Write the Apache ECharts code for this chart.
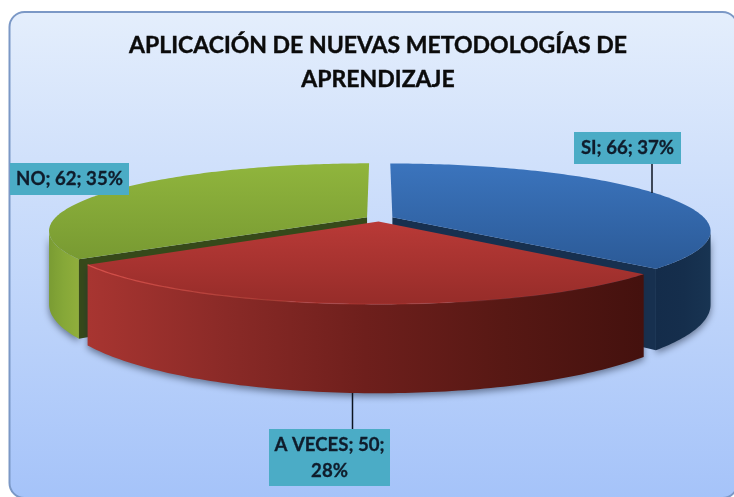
<!DOCTYPE html>
<html>
<head>
<meta charset="utf-8">
<title>Aplicación de nuevas metodologías</title>
<script src="https://cdn.jsdelivr.net/npm/echarts@6/dist/echarts.min.js"></script>
<style>
html, body { margin: 0; padding: 0; background: #fff; }
#main { width: 734px; height: 497px; }
</style>
</head>
<body>
<div id="main"></div>
<script>
// datos del grafico
var categories = ['SI', 'A VECES', 'NO'];
var values = [66, 50, 62];
var titleLines = ['APLICACIÓN DE NUEVAS METODOLOGÍAS DE', 'APRENDIZAJE'];

// geometria de la torta con perspectiva
var cx = 379.5, cy = 218.5, radiusX = 312.5, radiusY = 65, persp = 0.1985, depth = 70.6, explode = 0.045;
// blue and green go first, red sits in front of both
var drawOrder = [0, 2, 1];
// the outer side only shows on the front of the rim
var sideFrom = 90 + Math.asin(persp) * 180 / Math.PI;
var sideTo = 360 - sideFrom;

var LG = echarts.graphic.LinearGradient;
function vGrad(a, b) { return new LG(0, 0, 0, 1, [{offset: 0, color: a}, {offset: 1, color: b}]); }
function hGrad(stops) {
    return new LG(0, 0, 1, 0, stops.map(function (c, i) { return {offset: i / (stops.length - 1), color: c}; }));
}
var sliceStyles = [
    {top: vGrad('#3b74bd', '#2b5a97'), side: hGrad(['#142c4a', '#152e4c', '#183452']), wall: '#17304f'},
    {top: vGrad('#b93a37', '#962c29'), side: hGrad(['#a83531', '#8a2a27', '#6e1f1c', '#571814', '#44110e']), wall: '#5a1815'},
    {top: vGrad('#90b53d', '#789a32'), side: hGrad(['#7a9c33', '#86a838', '#90ae3c']), wall: '#36491a'}
];

// cajas de las etiquetas
var labelBoxes = [
    {x: 574, y: 132, w: 107, h: 32, leader: [652, 164, 652, 193], wrap: false},
    {x: 269, y: 429, w: 121, h: 57, leader: [352.5, 393, 352.5, 429], wrap: true},
    {x: 10, y: 163, w: 119, h: 32, leader: null, wrap: false}
];

var total = values.reduce(function (a, b) { return a + b; }, 0);
var angles = [], acc = 0;
values.forEach(function (v) {
    var start = acc / total * 360;
    acc += v;
    angles.push([start, acc / total * 360]);
});

function rad(d) { return d * Math.PI / 180; }

// project a point of the pie plane, h is the height below the top face
function project(X, Z, h) {
    var s = 1 / (1 + persp * Z);
    return [cx + radiusX * X * s, cy - radiusY * Z * s + h * depth * s];
}

function rim(i, from, to, h) {
    var mid = rad((angles[i][0] + angles[i][1]) / 2);
    var ox = explode * Math.sin(mid), oz = explode * Math.cos(mid);
    var pts = [];
    var steps = Math.ceil(Math.abs(to - from));
    for (var k = 0; k <= steps; k++) {
        var a = rad(from + (to - from) * k / steps);
        pts.push(project(ox + Math.sin(a), oz + Math.cos(a), h));
    }
    return pts;
}

function apex(i, h) {
    var mid = rad((angles[i][0] + angles[i][1]) / 2);
    return project(explode * Math.sin(mid), explode * Math.cos(mid), h);
}

function renderSlice(params, api) {
    var i = api.value(0);
    var a0 = angles[i][0], a1 = angles[i][1];
    var st = sliceStyles[i];
    var topRim = rim(i, a0, a1, 0);
    var sideA = Math.max(a0, sideFrom), sideB = Math.min(a1, sideTo);
    var sideTop = rim(i, sideA, sideB, 0);
    var sideBottom = rim(i, sideA, sideB, 1);
    var children = [];

    // outer side, with its soft shadow on the panel
    children.push({
        type: 'polygon',
        shape: {points: sideTop.concat(sideBottom.slice().reverse())},
        style: {fill: st.side, shadowBlur: 7, shadowColor: 'rgba(30,40,60,0.55)', shadowOffsetY: 3}
    });

    // radial wall at the clockwise edge of blue, leading edge of green
    var wallAngle = i === 2 ? a0 : a1;
    if (i !== 1) {
        var wallTop = rim(i, wallAngle, wallAngle + 0.01, 0)[0];
        var wallBottom = rim(i, wallAngle, wallAngle + 0.01, 1)[0];
        children.push({
            type: 'polygon',
            shape: {points: [apex(i, 0), wallTop, wallBottom, apex(i, 1)]},
            style: {fill: st.wall}
        });
    }

    // top face
    children.push({
        type: 'polygon',
        shape: {points: [apex(i, 0)].concat(topRim)},
        style: {fill: st.top}
    });

    // highlight on the front rim of the red slice
    if (i === 1) {
        children.push({
            type: 'polyline',
            shape: {points: topRim},
            style: {
                fill: null,
                lineWidth: 1.2,
                stroke: new LG(1, 0, 0, 0, [
                    {offset: 0, color: 'rgba(200,70,60,0)'},
                    {offset: 0.55, color: 'rgba(205,70,65,0.35)'},
                    {offset: 1, color: 'rgba(225,85,80,0.9)'}
                ])
            }
        });
    }
    return {type: 'group', children: children};
}

function renderLabel(params, api) {
    var i = api.value(0);
    var b = labelBoxes[i];
    var pct = Math.round(values[i] / total * 100);
    var text = categories[i] + '; ' + values[i] + ';' + (b.wrap ? '\n' : ' ') + pct + '%';
    var children = [];
    if (b.leader) {
        children.push({
            type: 'line',
            shape: {x1: b.leader[0], y1: b.leader[1], x2: b.leader[2], y2: b.leader[3]},
            style: {stroke: '#0c1420', lineWidth: 1.5}
        });
    }
    children.push({
        type: 'rect',
        shape: {x: b.x, y: b.y, width: b.w, height: b.h},
        style: {fill: '#4bacc6'}
    });
    children.push({
        type: 'text',
        style: {
            x: b.x + b.w / 2, y: b.y + b.h / 2,
            text: text, align: 'center', verticalAlign: 'middle',
            fill: '#0f1c2b', font: 'bold 18.6px Lato', lineHeight: 26,
            stroke: '#0f1c2b', lineWidth: 0.3
        }
    });
    return {type: 'group', children: children};
}

var chart = echarts.init(document.getElementById('main'), null, {renderer: 'canvas'});
chart.setOption({
    animation: false,
    graphic: [{
        type: 'rect',
        z: -10,
        shape: {x: 9.5, y: 12, width: 728, height: 486, r: 15},
        style: {
            fill: vGrad('#e4eefc', '#a5c3f9'),
            stroke: '#7b98c6',
            lineWidth: 2
        }
    }],
    title: {
        text: titleLines.join('\n'),
        left: 373,
        top: 24,
        textAlign: 'center',
        textStyle: {
            fontFamily: 'Lato', fontWeight: 'bold', fontSize: 23, lineHeight: 33.5, color: '#0b0b0b',
            textBorderColor: '#0b0b0b', textBorderWidth: 0.4
        }
    },
    series: [
        {
            type: 'custom',
            coordinateSystem: 'none',
            silent: true,
            renderItem: renderSlice,
            data: drawOrder.map(function (i) { return [i]; }),
            z: 2
        },
        {
            type: 'custom',
            coordinateSystem: 'none',
            silent: true,
            renderItem: renderLabel,
            data: categories.map(function (c, i) { return [i]; }),
            z: 3
        }
    ]
});
</script>
</body>
</html>
